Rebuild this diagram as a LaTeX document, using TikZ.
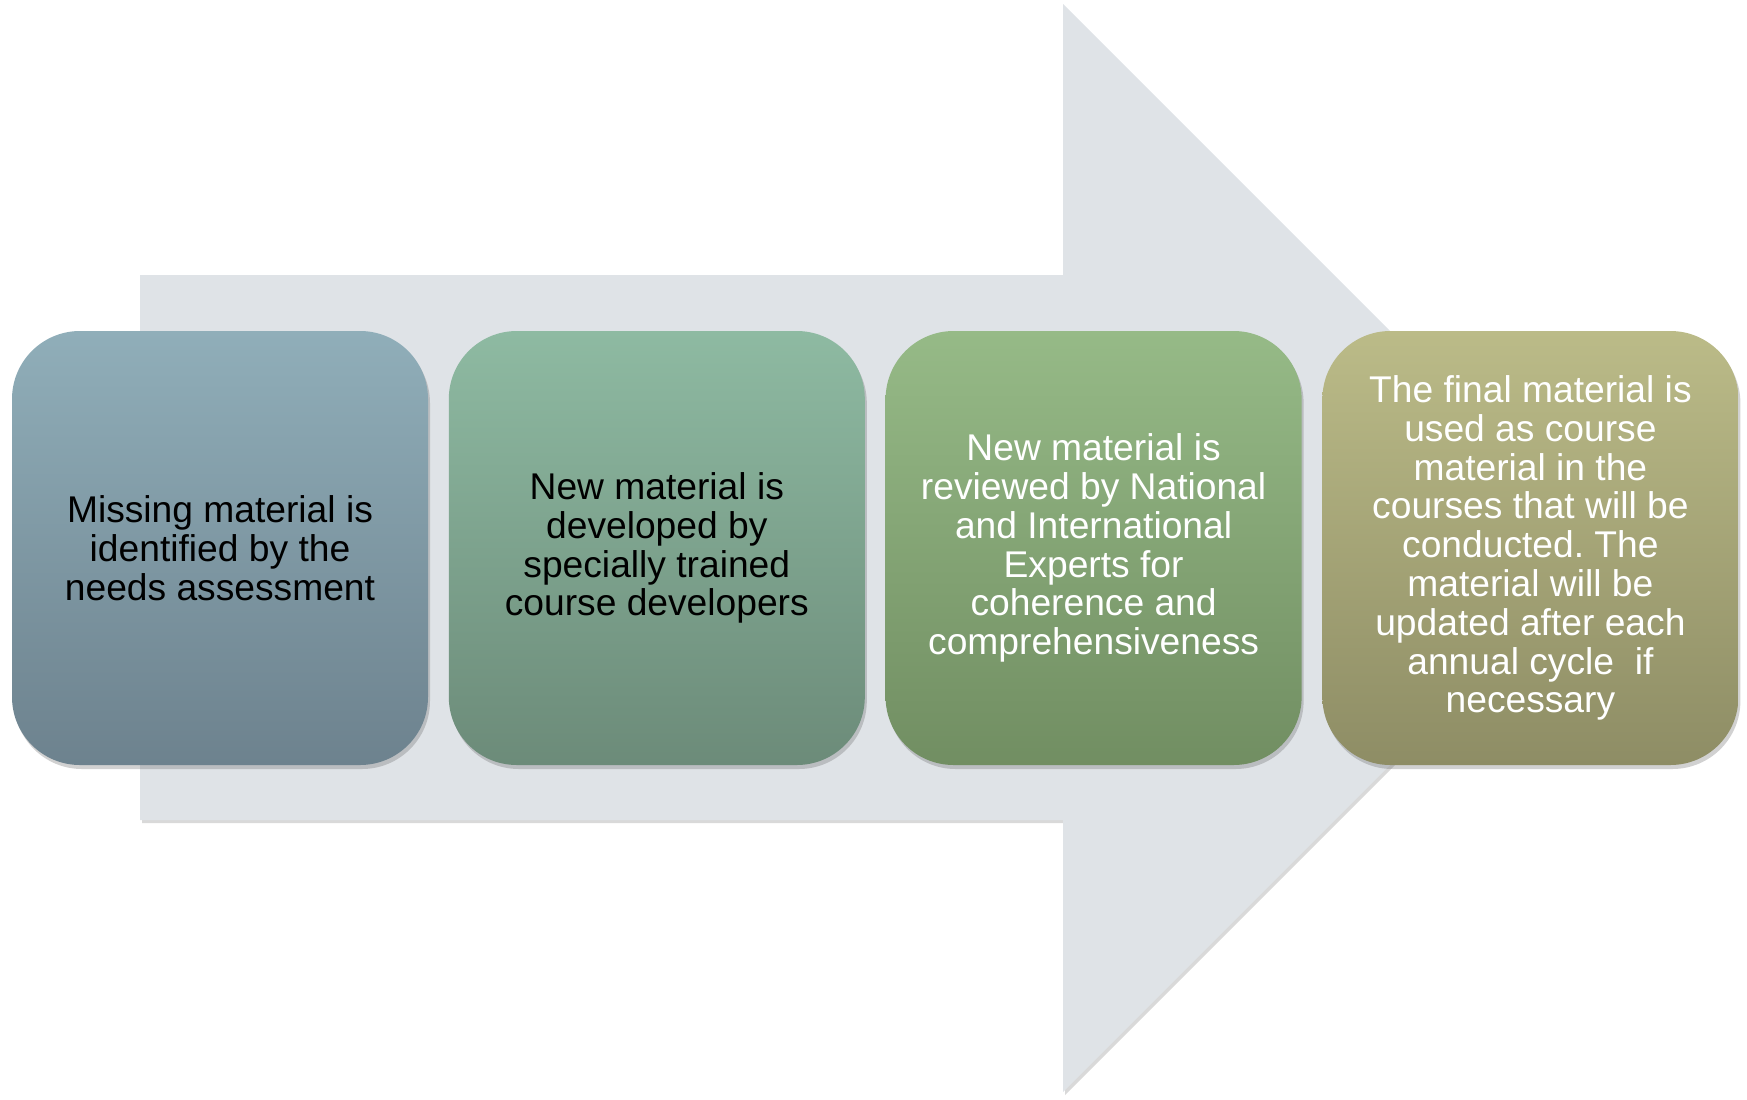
\documentclass[tikz,border=0pt]{standalone}
\usepackage{fontspec}
\setmainfont{Liberation Sans}
\usetikzlibrary{positioning,shadows}
\frenchspacing

\definecolor{arrowgray}{HTML}{DFE3E7}
\definecolor{blueTop}{HTML}{90AEB9}
\definecolor{blueBot}{HTML}{6D828E}
\definecolor{tealTop}{HTML}{8EBAA2}
\definecolor{tealBot}{HTML}{6C8B79}
\definecolor{greenTop}{HTML}{96BA87}
\definecolor{greenBot}{HTML}{718E62}
\definecolor{oliveTop}{HTML}{BBBB88}
\definecolor{oliveBot}{HTML}{8E8D65}

\begin{document}
\begin{tikzpicture}[x=0.5pt, y=-0.5pt,
    font=\fontsize{18.6}{19.4}\selectfont,
    stepbox/.style={rounded corners=34pt, minimum width=208pt, minimum height=217pt,
        align=center, inner sep=0pt,
        drop shadow={shadow xshift=1pt, shadow yshift=-2pt, opacity=0.3, fill=black!60}},
    node distance=10pt]
            \useasboundingbox (0,0) rectangle (1747,1099);

            % Arrow
            \fill[arrowgray, drop shadow={shadow xshift=1pt, shadow yshift=-1.5pt, opacity=0.3}]
                (140,275) -- (1063,275) -- (1063,4) -- (1607,548) -- (1063,1092) -- (1063,820) -- (140,820) -- cycle;

            % Nodes
            \node[stepbox, top color=blueTop, bottom color=blueBot] (S1) at (220,548)
                {Missing material is\\identified by the\\needs assessment};
            \node[stepbox, top color=tealTop, bottom color=tealBot, right=of S1] (S2)
                {New material is\\developed by\\specially trained\\course developers};
            \node[stepbox, top color=greenTop, bottom color=greenBot, text=white, right=of S2] (S3)
                {New material is\\reviewed by National\\and International\\Experts for\\coherence and\\comprehensiveness};
            \node[stepbox, top color=oliveTop, bottom color=oliveBot, text=white, right=of S3] (S4)
                {The final material is\\used as course\\material in the\\courses that will be\\conducted. The\\material will be\\updated after each\\annual cycle\ \ if\\necessary};
        \end{tikzpicture}
\end{document}
